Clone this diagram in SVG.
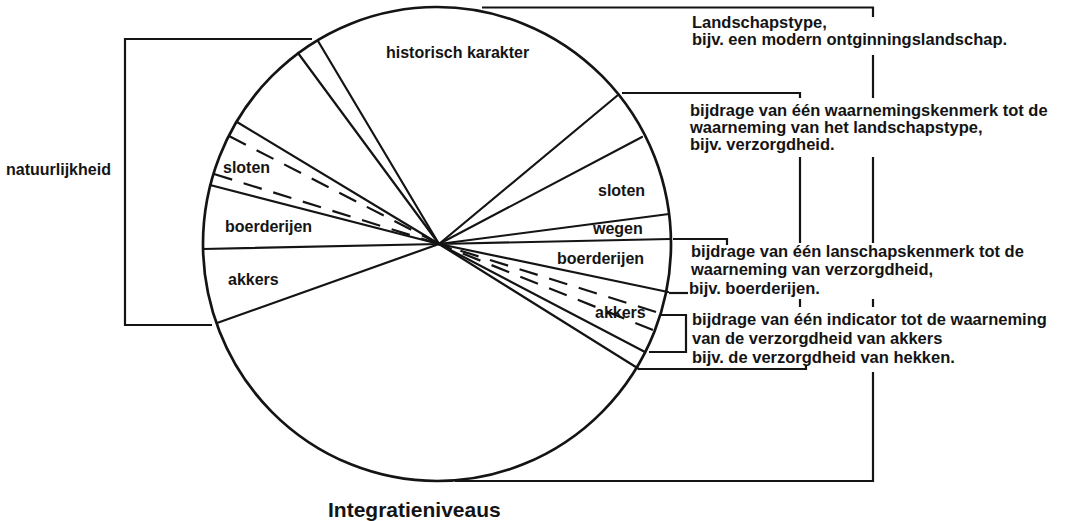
<svg xmlns="http://www.w3.org/2000/svg" width="1067" height="521" viewBox="0 0 1067 521">
  <style>
    .outline { fill: none; stroke: #141414; stroke-width: 2.7; }
    .spoke { fill: none; stroke: #141414; stroke-width: 2.2; stroke-linecap: round; }
    .dash { stroke-dasharray: 19 12; stroke-linecap: butt; }
    .bracket { fill: none; stroke: #141414; stroke-width: 2.2; }
    text { font-family: "Liberation Sans", Arial, Helvetica, sans-serif; font-weight: bold; font-size: 16px; fill: #141414; }
    .note text { font-size: 16.5px; }
    .title { font-size: 21px; }
  </style>

  <rect width="1067" height="521" fill="#ffffff"/>

  <!-- pie: outer circle and sector boundaries -->
  <g id="pie">
    <ellipse class="outline" cx="437" cy="244" rx="234" ry="237"/>
    <g id="spokes">
      <!-- left half -->
      <line class="spoke" x1="439" y1="244" x2="318" y2="41"/>
      <line class="spoke" x1="439" y1="244" x2="298" y2="53"/>
      <line class="spoke" x1="439" y1="244" x2="237" y2="122"/>
      <line class="spoke dash" x1="229" y1="136" x2="439" y2="244"/>
      <line class="spoke dash" x1="214" y1="174" x2="439" y2="244"/>
      <line class="spoke" x1="439" y1="244" x2="210" y2="185"/>
      <line class="spoke" x1="439" y1="244" x2="203" y2="249"/>
      <line class="spoke" x1="439" y1="244" x2="217" y2="323"/>
      <!-- right half -->
      <line class="spoke" x1="439" y1="244" x2="618" y2="95"/>
      <line class="spoke" x1="439" y1="244" x2="642" y2="137"/>
      <line class="spoke" x1="439" y1="244" x2="669" y2="214"/>
      <line class="spoke" x1="439" y1="244" x2="670" y2="239"/>
      <line class="spoke" x1="439" y1="244" x2="668" y2="292"/>
      <line class="spoke dash" x1="656" y1="312" x2="439" y2="244"/>
      <line class="spoke dash" x1="653" y1="330" x2="439" y2="244"/>
      <line class="spoke" x1="439" y1="244" x2="645" y2="352"/>
      <line class="spoke" x1="439" y1="244" x2="639" y2="369"/>
    </g>
  </g>

  <!-- sector labels -->
  <g id="label-historisch-karakter"><text x="386" y="58" font-size="16.5">historisch karakter</text></g>
  <g id="label-sloten-left"><text x="223" y="173">sloten</text></g>
  <g id="label-boerderijen-left"><text x="225" y="232">boerderijen</text></g>
  <g id="label-akkers-left"><text x="228" y="285">akkers</text></g>
  <g id="label-sloten-right"><text x="598" y="196">sloten</text></g>
  <g id="label-wegen"><text x="593" y="234">wegen</text></g>
  <g id="label-boerderijen-right"><text x="557" y="264">boerderijen</text></g>
  <g id="label-akkers-right"><text x="595" y="318">akkers</text></g>

  <!-- side annotations -->
  <g id="note-natuurlijkheid"><text x="6" y="175" font-size="17">natuurlijkheid</text></g>
  <g id="note-landschapstype" class="note">
    <text x="692" y="28">Landschapstype,</text>
    <text x="692" y="45">bijv. een modern ontginningslandschap.</text>
  </g>
  <g id="note-waarnemingskenmerk" class="note">
    <text x="690" y="116">bijdrage van één waarnemingskenmerk tot de</text>
    <text x="690" y="133">waarneming van het landschapstype,</text>
    <text x="690" y="150">bijv. verzorgdheid.</text>
  </g>
  <g id="note-landschapskenmerk" class="note">
    <text x="691" y="257">bijdrage van één lanschapskenmerk tot de</text>
    <text x="691" y="275">waarneming van verzorgdheid,</text>
    <text x="689" y="294">bijv. boerderijen.</text>
  </g>
  <g id="note-indicator" class="note">
    <text x="692" y="325">bijdrage van één indicator tot de waarneming</text>
    <text x="692" y="344">van de verzorgdheid van akkers</text>
    <text x="692" y="363">bijv. de verzorgdheid van hekken.</text>
  </g>
  <g id="caption"><text class="title" x="328" y="517">Integratieniveaus</text></g>

  <!-- brackets linking sectors to annotations -->
  <g id="connectors">
    <!-- natuurlijkheid -->
    <polyline class="bracket" points="312,39 125,39 125,325 212,325"/>
    <!-- landschapstype: whole circle -->
    <polyline class="bracket" points="482,7.5 873,7.5 873,17"/>
    <line class="bracket" x1="873" y1="55" x2="873" y2="98"/>
    <line class="bracket" x1="873" y1="157" x2="873" y2="243"/>
    <line class="bracket" x1="873" y1="299" x2="873" y2="307"/>
    <polyline class="bracket" points="873,372 873,481 455,481"/>
    <!-- waarnemingskenmerk: verzorgdheid sectors -->
    <polyline class="bracket" points="622,93 800,93 800,98"/>
    <line class="bracket" x1="800" y1="157" x2="800" y2="243"/>
    <line class="bracket" x1="800" y1="299" x2="800" y2="307"/>
    <polyline class="bracket" points="639,369 806,369 806,365"/>
    <!-- landschapskenmerk: boerderijen sector -->
    <polyline class="bracket" points="673,239 727,239 727,245"/>
    <line class="bracket" x1="669" y1="293" x2="688" y2="293"/>
    <!-- indicator -->
    <polyline class="bracket" points="660,315 686,315 686,352 649,352"/>
  </g>
</svg>
